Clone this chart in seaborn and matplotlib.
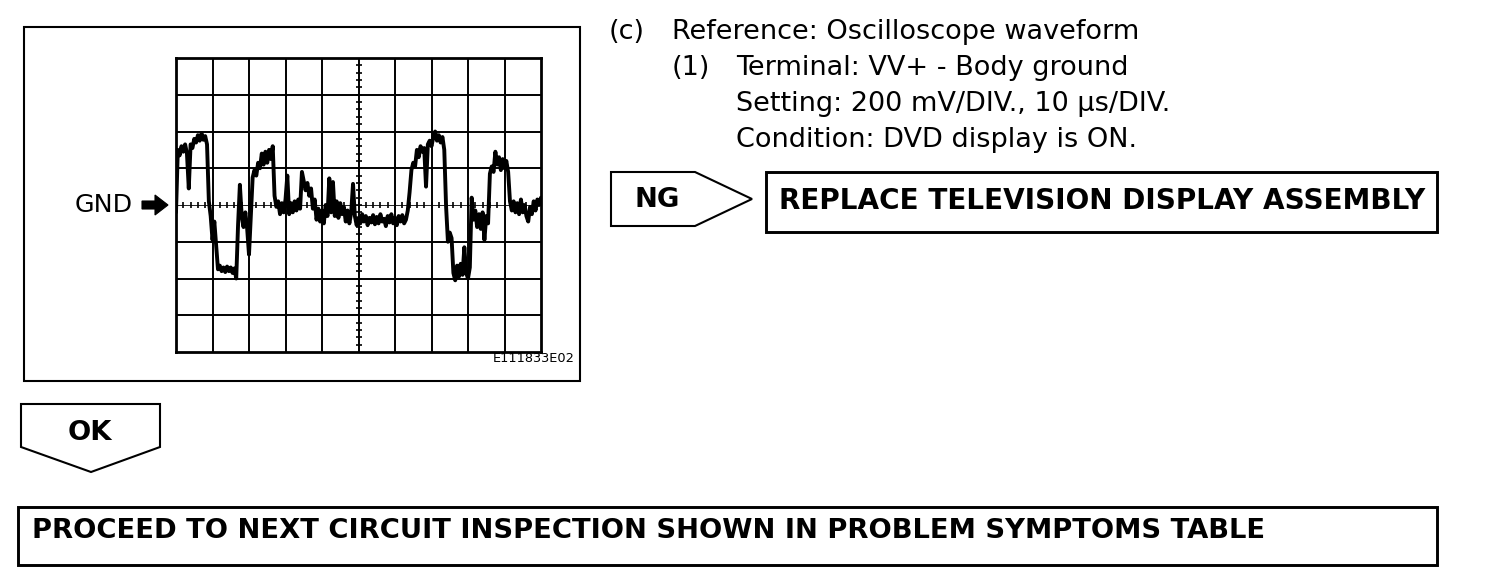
import matplotlib
matplotlib.use("Agg")
import matplotlib.pyplot as plt
import seaborn as sns
import numpy as np
from matplotlib.patches import Polygon, Rectangle

# scope samples every 0.5 us (10 us/DIV), voltage in mV (200 mV/DIV)
sample_step_us = 0.5
trace_v = [
    -40, 300, 270, 320, 290, 330, 280, 90, 330, 310,            # 0 - 4.5 us
    360, 340, 380, 350, 390, 355, 375, 330, 20, -60,            # 5 - 9.5
    -190, -90, -220, -350, -330, -360, -340, -365, -335, -360,  # 10 - 14.5
    -340, -370, -345, -400, -110, 110, -60, -120, -40, -130,    # 15 - 19.5
    -270, -60, 150, 190, 160, 230, 200, 280, 220, 290,          # 20 - 24.5
    230, 300, 250, 320, 50, -10, 20, -50, 10, -40,              # 25 - 29.5
    30, 160, -50, 10, -40, 20, -30, 30, -20, 180,               # 30 - 34.5
    130, 80, 120, 50, 90, -20, 30, -80, -20, -90,               # 35 - 39.5
    -30, -100, 0, -60, 145, -40, 125, -60, 20, -70,             # 40 - 44.5
    10, -50, -10, -90, -30, -100, -40, 115, -60, -110,          # 45 - 49.5
    -70, -100, -50, -90, -60, -110, -70, -95, -55, -105,        # 50 - 54.5
    -65, -100, -50, -90, -75, -115, -60, -95, -50, -100,        # 55 - 59.5
    -70, -110, -60, -90, -55, -100, -80, -30, 70, 190,          # 60 - 64.5
    230, 210, 300, 260, 320, 290, 310, 100, 330, 350,           # 65 - 69.5
    320, 370, 400, 350, 380, 340, 370, 300, -10, -200,          # 70 - 74.5
    -150, -180, -370, -410, -330, -390, -320, -380, -230, -370, # 75 - 79.5
    -400, -340, 40, -80, -30, -120, -50, -130, -40, -190,       # 80 - 84.5
    -60, -100, 170, 210, 180, 290, 220, 260, 190, 250,          # 85 - 89.5
    200, 240, 180, 20, -30, 20, -40, 10, -50, 30,               # 90 - 94.5
    -40, 0, -60, -90, -10, -50, 20, -30, 30, 0,                 # 95 - 99.5
    40,                                                         # 100
]
trace_t = np.arange(len(trace_v)) * sample_step_us

info_lines = ["Terminal: VV+ - Body ground",
              "Setting: 200 mV/DIV., 10 \u03bcs/DIV.",
              "Condition: DVD display is ON."]
ng_action = "REPLACE TELEVISION DISPLAY ASSEMBLY"
ok_action = "PROCEED TO NEXT CIRCUIT INSPECTION SHOWN IN PROBLEM SYMPTOMS TABLE"

sns.set_style("white")
plt.rcParams['font.family'] = ['DejaVu Sans']
plt.rcParams['text.color'] = 'black'

W, H = 1504, 584
fig = plt.figure(figsize=(W / 100, H / 100), dpi=100)
renderer = fig.canvas.get_renderer()


def fit_width(txt, width):
    # scale the font so the text spans the wanted number of pixels
    bb = txt.get_window_extent(renderer)
    txt.set_fontsize(txt.get_fontsize() * width / bb.width)
    return txt.get_fontsize()


# page layer in pixel coordinates
bg = fig.add_axes([0, 0, 1, 1])
bg.set_xlim(0, W)
bg.set_ylim(H, 0)
bg.axis('off')

lw = 1.5
bg.add_patch(Rectangle((24, 27), 556, 354, fill=False, lw=lw, ec='black'))
code = bg.text(575, 358, "E111833E02", fontsize=10, ha='right', va='center')
fit_width(code, 82)

gnd = bg.text(75, 205, "GND", fontsize=15, ha='left', va='center')
fit_width(gnd, 58)
bg.add_patch(Polygon([(142, 201), (155, 201), (155, 195), (168, 205), (155, 215),
                      (155, 209), (142, 209)], closed=True, fc='black', ec='black', lw=0.8))

# text block
head = bg.text(672, 39, "Reference: Oscilloscope waveform", fontsize=15, va='baseline')
reg = fit_width(head, 469)
bg.text(609, 39, "(c)", fontsize=reg, va='baseline')
bg.text(672, 75, "(1)", fontsize=reg, va='baseline')
for i, line in enumerate(info_lines):
    bg.text(736, 75 + 36 * i, line, fontsize=reg, va='baseline')

# OK arrow and box
bg.add_patch(Polygon([(21, 404), (160, 404), (160, 447), (91, 472), (21, 447)],
                     closed=True, fill=False, lw=lw, ec='black'))
bg.add_patch(Rectangle((18, 507), 1419, 58, fill=False, lw=lw * 1.4, ec='black'))
ok_txt = bg.text(32, 538, ok_action, fontsize=15, fontweight='bold', va='baseline')
bold = fit_width(ok_txt, 1231)
bg.text(90, 440, "OK", fontsize=bold, fontweight='bold', ha='center', va='baseline')

# NG arrow and box
bg.add_patch(Polygon([(611, 172), (695, 172), (752, 199), (695, 226), (611, 226)],
                     closed=True, fill=False, lw=lw, ec='black'))
bg.text(657, 207, "NG", fontsize=bold, fontweight='bold', ha='center', va='baseline')
bg.add_patch(Rectangle((766, 172), 671, 60, fill=False, lw=lw * 1.4, ec='black'))
ng_txt = bg.text(779, 209, ng_action, fontsize=bold, fontweight='bold', va='baseline')
fit_width(ng_txt, 645)

# scope screen
ax = fig.add_axes([176 / W, 1 - 352 / H, 365 / W, 294 / H])
ax.set_xlim(0, 100)
ax.set_ylim(-800, 800)
for t in range(10, 100, 10):
    ax.axvline(t, color='black', lw=1.4)
for v in range(-600, 800, 200):
    if v != 0:
        ax.axhline(v, color='black', lw=1.4)
ax.axhline(0, color='black', lw=0.6)
ax.plot(np.arange(2, 100, 2), np.zeros(49), ls='none', marker='|', ms=5, mew=1.2, color='black')
ax.plot(np.full(39, 50), np.arange(-760, 800, 40), ls='none', marker='_', ms=5, mew=1.2, color='black')

sns.lineplot(x=trace_t, y=trace_v, ax=ax, color='black', lw=2.8, sort=False,
             estimator=None, zorder=5)
ax.set_xticks([])
ax.set_yticks([])
ax.set_xlabel('')
ax.set_ylabel('')
for s in ax.spines.values():
    s.set_visible(True)
    s.set_linewidth(2.0)
    s.set_color('black')

fig.savefig("out.png", dpi=100)
